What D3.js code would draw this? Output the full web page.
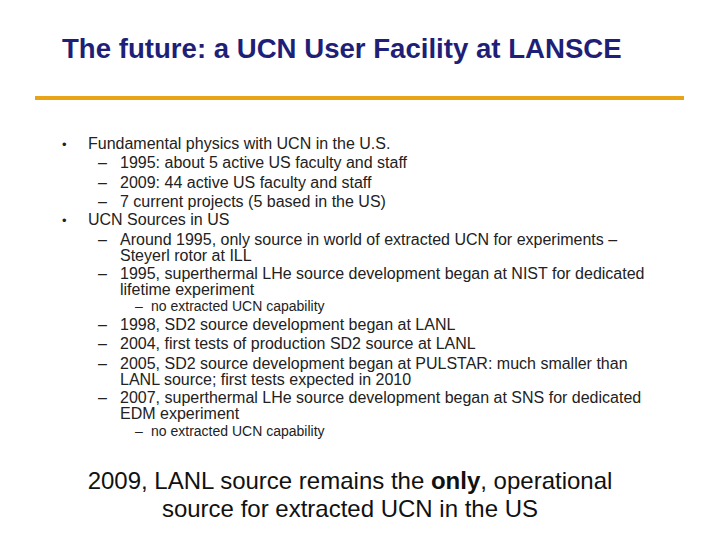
<!DOCTYPE html>
<html><head><meta charset="utf-8">
<script src="https://cdn.jsdelivr.net/npm/d3@7"></script>
<style>body{margin:0;background:#fff}</style></head>
<body><svg id="s" width="720" height="540"></svg>
<script>
const title = "The future: a UCN User Facility at LANSCE";
// [level, marker, text, baseline y]
const lines = [
 [1,"•","Fundamental physics with UCN in the U.S.",149],
 [2,"–","1995: about 5 active US faculty and staff",168],
 [2,"–","2009: 44 active US faculty and staff",188],
 [2,"–","7 current projects (5 based in the US)",207],
 [1,"•","UCN Sources in US",225],
 [2,"–","Around 1995, only source in world of extracted UCN for experiments –",245],
 [2,"","Steyerl rotor at ILL",261],
 [2,"–","1995, superthermal LHe source development began at NIST for dedicated",279],
 [2,"","lifetime experiment",295],
 [3,"–","no extracted UCN capability",311],
 [2,"–","1998, SD2 source development began at LANL",330],
 [2,"–","2004, first tests of production SD2 source at LANL",349],
 [2,"–","2005, SD2 source development began at PULSTAR: much smaller than",369],
 [2,"","LANL source; first tests expected in 2010",385],
 [2,"–","2007, superthermal LHe source development began at SNS for dedicated",403],
 [2,"","EDM experiment",419],
 [3,"–","no extracted UCN capability",436]
];
const svg = d3.select("#s");
const font = "Liberation Sans, Arial, sans-serif";
svg.append("text").attr("x",62).attr("y",58).attr("font-family",font).attr("font-size",27.6)
 .attr("font-weight","bold").attr("fill","#1f1f78").text(title);
svg.append("line").attr("x1",35).attr("x2",684).attr("y1",98).attr("y2",98)
 .attr("stroke","#e8a317").attr("stroke-width",4);
const mx = {1:62,2:98,3:135}, tx={1:88,2:120,3:151}, fs={1:16,2:16,3:14};
const g = svg.append("g").attr("font-family",font).attr("fill","#222");
lines.forEach(([l,m,t,y])=>{
  if(m) g.append("text").attr("x",mx[l]).attr("y",y).attr("font-size",l==1?13:fs[l]).text(m);
  g.append("text").attr("x",tx[l]).attr("y",y).attr("font-size",fs[l]).text(t);
});
const f = svg.append("g").attr("font-family",font).attr("font-size",24).attr("fill","#111").attr("text-anchor","middle");
const t1 = f.append("text").attr("x",350).attr("y",489);
t1.append("tspan").text("2009, LANL source remains the ");
t1.append("tspan").attr("font-weight","bold").text("only");
t1.append("tspan").text(", operational");
f.append("text").attr("x",350).attr("y",517).text("source for extracted UCN in the US");
</script></body></html>
